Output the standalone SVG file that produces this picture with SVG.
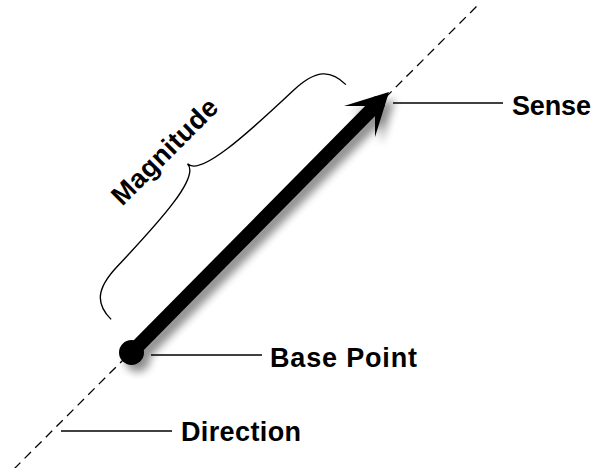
<svg xmlns="http://www.w3.org/2000/svg" width="596" height="468" viewBox="0 0 596 468">
  <defs>
    <filter id="shadow" x="-20%" y="-20%" width="150%" height="150%">
      <feGaussianBlur in="SourceAlpha" stdDeviation="4"/>
      <feOffset dx="6" dy="7" result="b"/>
      <feComponentTransfer><feFuncA type="linear" slope="0.45"/></feComponentTransfer>
      <feMerge><feMergeNode/><feMergeNode in="SourceGraphic"/></feMerge>
    </filter>
  </defs>
  <style>
    .lbl { font-family: "Liberation Sans", Arial, sans-serif; font-weight: bold; font-size: 27px; fill: #000; }
    .leader { stroke: #000; stroke-width: 1.5; fill: none; }
    .dash { stroke: #000; stroke-width: 1.3; stroke-dasharray: 9 6; fill: none; }
    .brace { stroke: #000; stroke-width: 1.4; fill: none; }
  </style>
  <rect width="596" height="468" fill="#fff"/>

  <g id="direction-line">
    <line class="dash" x1="14" y1="469" x2="480" y2="3"/>
  </g>

  <g id="magnitude">
    <path class="brace" transform="translate(228.5,202) rotate(-45)" d="M 166,0 C 166,-22 155,-32 125,-33 C 60,-35 -2,-38 -2,-56 C -2,-38 -60,-35 -125,-33 C -155,-32 -166,-22 -166,0"/>
    <text class="lbl" transform="translate(171,158) rotate(-45)" text-anchor="middle" textLength="138">Magnitude</text>
  </g>

  <g id="vector" filter="url(#shadow)">
    <line x1="131.5" y1="352.5" x2="380" y2="101" stroke="#000" stroke-width="14"/>
    <polygon points="389,92 344,106 375,106 375,137" fill="#000"/>
    <circle cx="131.5" cy="352.5" r="12.5" fill="#000"/>
  </g>

  <g id="connectors">
    <line class="leader" x1="393" y1="103" x2="503" y2="103"/>
    <line class="leader" x1="151" y1="355" x2="262" y2="355"/>
    <line class="leader" x1="61" y1="431" x2="172" y2="431"/>
  </g>

  <g id="sense"><text class="lbl" x="512" y="115" textLength="79">Sense</text></g>
  <g id="base-point"><text class="lbl" x="270" y="367" textLength="147">Base Point</text></g>
  <g id="direction"><text class="lbl" x="181" y="441" textLength="120">Direction</text></g>
</svg>
